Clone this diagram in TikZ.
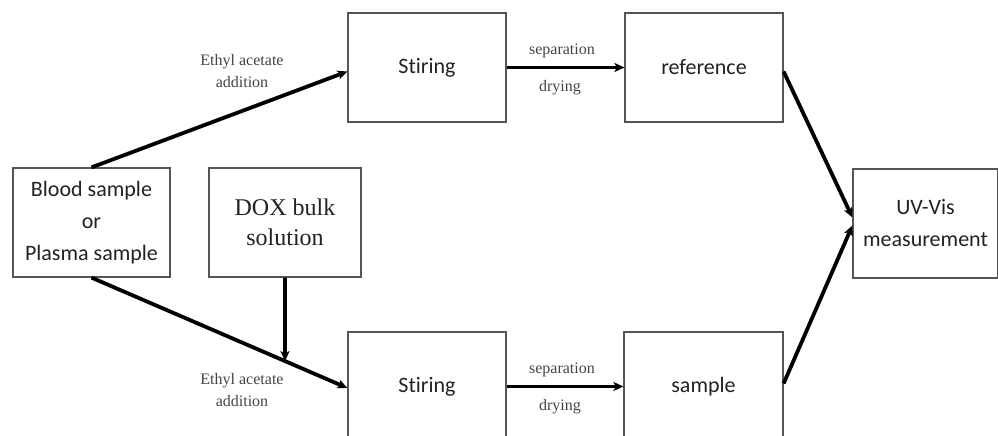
\documentclass[tikz,border=0pt]{standalone}
\usepackage{fontspec}
\setmainfont{Liberation Serif}
\newfontfamily\boxfont[Ligatures=NoCommon]{Carlito}
\usetikzlibrary{arrows.meta,intersections,calc}
\definecolor{boxline}{HTML}{555555}
\definecolor{txt}{HTML}{222222}
\definecolor{lbl}{HTML}{444444}
\tikzset{
  stepbox/.style={draw=boxline, line width=1.2pt, rectangle, minimum height=109pt,
    inner sep=0pt, align=center, text=txt, font=\boxfont\fontsize{22}{32}\selectfont},
  serifbox/.style={stepbox, font=\fontsize{24}{30}\selectfont},
  flow/.style={line width=3.8pt, -{Stealth[length=10pt,width=9pt,inset=2.5pt]}},
  note/.style={text=lbl, font=\fontsize{16}{22}\selectfont, align=center, inner sep=0pt}
}
\begin{document}
\begin{tikzpicture}[x=1pt,y=-1pt]
  \useasboundingbox (0,0) rectangle (998,436);
  \clip (0,0) rectangle (998,436);
  % process boxes
  \node[stepbox, minimum width=157pt] (blood) at (91.5,222.5) {Blood sample\\or\\Plasma sample};
  \node[serifbox, minimum width=152pt] (dox) at (285,222.5) {DOX bulk\\solution};
  \node[stepbox, minimum width=158pt] (stir1) at (427,67.5) {Stiring};
  \node[stepbox, minimum width=158pt] (ref) at (704,67.5) {reference};
  \node[stepbox, minimum width=158pt] (stir2) at (427,386.5) {Stiring};
  \node[stepbox, minimum width=159pt] (samp) at (703.5,386.5) {sample};
  \node[stepbox, minimum width=145pt] (uv) at (925.5,223.5) {UV-Vis\\measurement};
  % reference branch
  \draw[flow] (blood.north) -- ($(stir1.west)+(0,4)$);
  \node[note] (ea1) at (242,71) {Ethyl acetate\\addition};
  \draw[flow] (stir1.east) -- (ref.west);
  \node[note] (sep1) at (562,51) {separation};
  \node[note] (dry1) at (560,88) {drying};
  % sample branch
  \draw[flow, name path=lower] (blood.south) -- ($(stir2.west)+(0,1.5)$);
  \path[name path=doxdown] (dox.south) -- ++(0,150);
  \path[name intersections={of=lower and doxdown, by=meet}];
  \draw[flow] (dox.south) -- (meet);
  \node[note] (ea2) at (242,390) {Ethyl acetate\\addition};
  \draw[flow] (stir2.east) -- (samp.west);
  \node[note] (sep2) at (562,370) {separation};
  \node[note] (dry2) at (560,407) {drying};
  % measurement
  \draw[flow] ($(ref.east)+(0,4)$) -- ($(uv.west)+(0,-6)$);
  \draw[flow] ($(samp.east)+(0,-3)$) -- ($(uv.west)+(0,2)$);
\end{tikzpicture}
\end{document}
